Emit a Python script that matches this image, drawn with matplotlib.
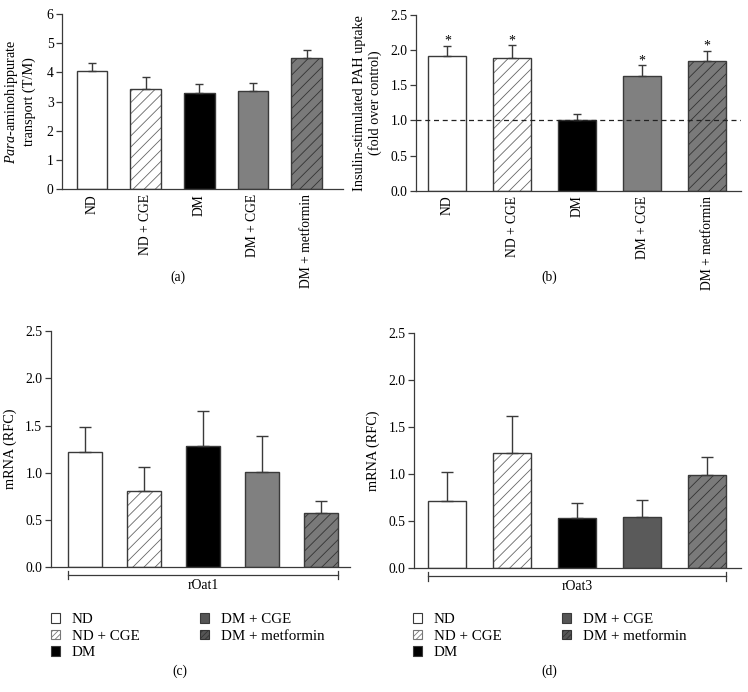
import numpy as np
import matplotlib
matplotlib.use("Agg")
import matplotlib.pyplot as plt
import matplotlib.transforms as mtransforms
from matplotlib.patches import Patch

plt.rcParams['font.family'] = ['Liberation Serif', 'DejaVu Serif']
plt.rcParams['mathtext.fontset'] = 'custom'
plt.rcParams['mathtext.rm'] = 'Liberation Serif'
plt.rcParams['mathtext.it'] = 'Liberation Serif:italic'
plt.rcParams['font.size'] = 9.8
plt.rcParams['hatch.linewidth'] = 0.6

groups = ['ND', 'ND + CGE', 'DM', 'DM + CGE', 'DM + metformin']

# (a) para-aminohippurate transport
pah_transport = [4.05, 3.45, 3.31, 3.36, 4.49]
pah_transport_err = [0.29, 0.40, 0.30, 0.29, 0.28]

# (b) insulin-stimulated PAH uptake
insulin_uptake = [1.91, 1.88, 1.00, 1.63, 1.84]
insulin_uptake_err = [0.15, 0.19, 0.09, 0.15, 0.15]
insulin_sig = [True, True, False, True, True]

# (c) rOat1 mRNA
oat1_mrna = [1.22, 0.81, 1.28, 1.01, 0.57]
oat1_mrna_err = [0.26, 0.25, 0.38, 0.38, 0.13]

# (d) rOat3 mRNA
oat3_mrna = [0.71, 1.22, 0.53, 0.54, 0.99]
oat3_mrna_err = [0.31, 0.40, 0.16, 0.18, 0.19]

edge = '#3a3a3a'
face_top = ['white', 'white', 'black', '#808080', '#7a7a7a']
face_d = ['white', 'white', 'black', '#5a5a5a', '#7a7a7a']
hatches = [None, '///', None, None, '///']
hatch_cols = [edge, '#666666', edge, edge, '#333333']

fig = plt.figure(figsize=(7.48, 6.92), dpi=100)


def style_axes(ax, ylim, yticks, fmt):
    ax.set_ylim(*ylim)
    ax.set_yticks(yticks)
    ax.set_yticklabels([fmt % t for t in yticks])
    for s in ['top', 'right']:
        ax.spines[s].set_visible(False)
    for s in ['left', 'bottom']:
        ax.spines[s].set_color(edge)
        ax.spines[s].set_linewidth(0.9)
    ax.tick_params(axis='y', direction='out', length=4, width=0.9, color=edge, pad=2)
    ax.tick_params(axis='x', length=0)


def draw_bars(ax, vals, errs, width, faces, cap):
    x = np.arange(len(vals))
    for i in range(len(vals)):
        ax.bar(x[i], vals[i], width=width, color=faces[i], edgecolor=hatch_cols[i],
               hatch=hatches[i], linewidth=0)
        ax.bar(x[i], vals[i], width=width, color='none', edgecolor=edge, linewidth=1.0)
    ax.errorbar(x, vals, yerr=[np.zeros(len(vals)), errs], fmt='none', ecolor=edge,
                elinewidth=1.0, capsize=cap, capthick=1.0, zorder=1)
    return x


# panel a
ax1 = fig.add_axes([0.0829, 0.7264, 0.3757, 0.2533])
x = draw_bars(ax1, pah_transport, pah_transport_err, 0.57, face_top, 2.6)
ax1.set_xlim(-0.56, 4.68)
style_axes(ax1, (0, 6), np.arange(0, 7, 1), '%d')
ax1.set_xticks(x)
ax1.set_xticklabels(groups, rotation=90)
ax1.set_ylabel('$\\it{Para}$-aminohippurate\ntransport (T/M)', labelpad=8, fontsize=10.3)

# panel b
ax2 = fig.add_axes([0.556, 0.7244, 0.4345, 0.2543])
x = draw_bars(ax2, insulin_uptake, insulin_uptake_err, 0.585, face_top, 3)
ax2.set_xlim(-0.485, 4.52)
style_axes(ax2, (0, 2.5), np.arange(0, 2.6, 0.5), '%.1f')
ax2.axhline(1.0, color='#222222', linestyle=(0, (4, 3)), linewidth=0.9, zorder=5)
ax2.set_xticks(x)
ax2.set_xticklabels(groups, rotation=90)
ax2.set_ylabel('Insulin-stimulated PAH uptake\n(fold over control)', labelpad=6, fontsize=10.3)
for i in range(len(insulin_uptake)):
    if insulin_sig[i]:
        ax2.text(x[i], insulin_uptake[i] + insulin_uptake_err[i] - 0.03, '*',
                 ha='center', va='bottom', fontsize=10)


def bracket(ax, x0, x1, label):
    tr = mtransforms.blended_transform_factory(ax.transData, ax.transAxes)
    y = -0.034
    ax.plot([x0, x1], [y, y], color=edge, lw=0.9, transform=tr, clip_on=False)
    for xx in (x0, x1):
        ax.plot([xx, xx], [y - 0.018, y + 0.018], color=edge, lw=0.9, transform=tr,
                clip_on=False)
    ax.text((x0 + x1) / 2, -0.05, label, transform=tr, ha='center', va='top')


# panel c
ax3 = fig.add_axes([0.0678, 0.1806, 0.400, 0.3406])
x = draw_bars(ax3, oat1_mrna, oat1_mrna_err, 0.574, face_top, 4)
ax3.set_xlim(-0.587, 4.49)
style_axes(ax3, (0, 2.5), np.arange(0, 2.6, 0.5), '%.1f')
ax3.set_xticks([])
ax3.set_ylabel('mRNA (RFC)', labelpad=6, fontsize=10.3)
bracket(ax3, -0.287, 4.287, 'rOat1')

# panel d
ax4 = fig.add_axes([0.5535, 0.1788, 0.437, 0.3405])
x = draw_bars(ax4, oat3_mrna, oat3_mrna_err, 0.585, face_d, 4)
ax4.set_xlim(-0.508, 4.52)
style_axes(ax4, (0, 2.5), np.arange(0, 2.6, 0.5), '%.1f')
ax4.set_xticks([])
ax4.set_ylabel('mRNA (RFC)', labelpad=6, fontsize=10.3)
bracket(ax4, -0.29, 4.29, 'rOat3')

# legends
leg_faces = ['white', 'white', 'black', '#555555', '#555555']
leg_hatch = [None, '//////', None, None, '//////']
leg_hcol = [edge, '#777777', edge, edge, '#333333']
handles = [Patch(facecolor=leg_faces[i], edgecolor=leg_hcol[i], hatch=leg_hatch[i],
                 linewidth=0.8, label=groups[i]) for i in range(5)]
for lx in (0.068, 0.552):
    fig.legend(handles=handles, ncol=2, loc='upper left', bbox_to_anchor=(lx, 0.114),
               frameon=False, fontsize=10.8, handlelength=0.6, handleheight=0.6,
               handletextpad=0.8, columnspacing=4.0, labelspacing=0.24,
               borderaxespad=0, borderpad=0)

# panel captions
fig.text(178 / 748, 1 - 277 / 692, '(a)', ha='center', va='center')
fig.text(549 / 748, 1 - 277 / 692, '(b)', ha='center', va='center')
fig.text(180 / 748, 1 - 671 / 692, '(c)', ha='center', va='center')
fig.text(549 / 748, 1 - 671 / 692, '(d)', ha='center', va='center')

fig.savefig('out.png', dpi=100, facecolor='white')
